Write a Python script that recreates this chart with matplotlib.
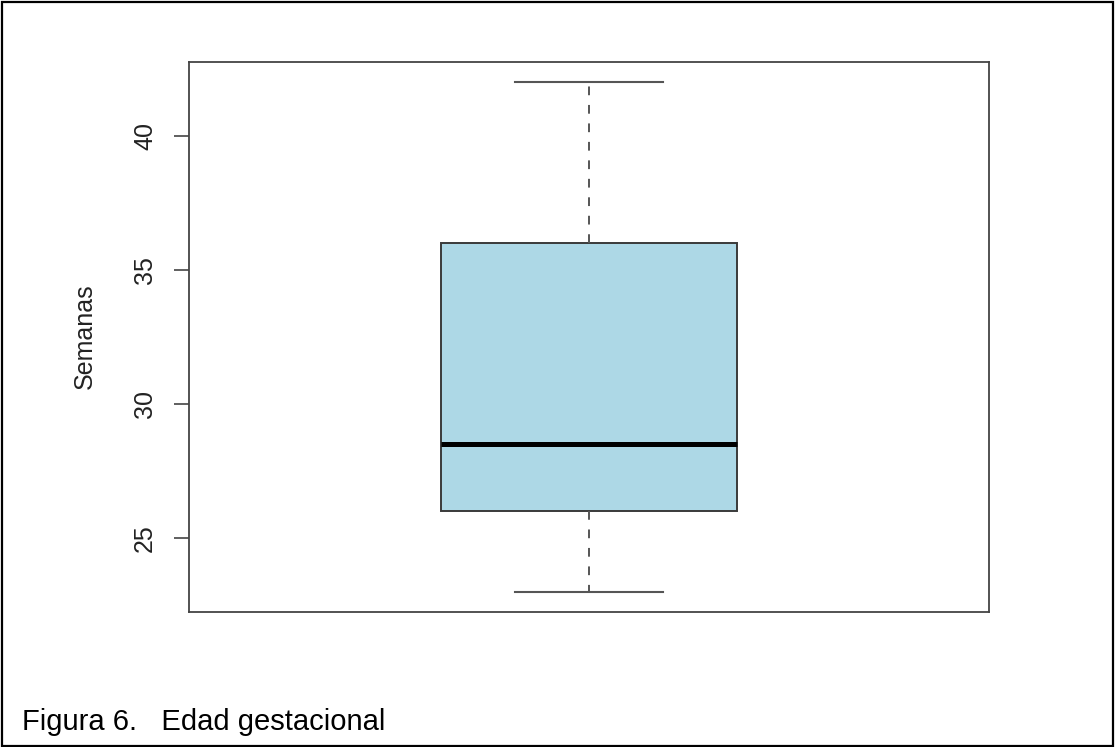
import matplotlib
matplotlib.use("Agg")
import matplotlib.pyplot as plt
from matplotlib.patches import Rectangle

plt.rcParams['font.family'] = ['Liberation Sans', 'DejaVu Sans']

# summary of gestational age (weeks)
semanas_min = 23
semanas_q1 = 26
semanas_mediana = 28.5
semanas_q3 = 36
semanas_max = 42
y_ticks = [25, 30, 35, 40]

stats = [{
    "whislo": semanas_min,
    "q1": semanas_q1,
    "med": semanas_mediana,
    "q3": semanas_q3,
    "whishi": semanas_max,
    "fliers": [],
}]

W, H = 1116, 747
fig = plt.figure(figsize=(W / 100, H / 100), dpi=100)
ax = fig.add_axes([189 / W, 1 - 612 / H, 800 / W, 550 / H])

edge = "#3a3a3a"
ax.bxp(
    stats, positions=[1], widths=0.4, patch_artist=True, showfliers=False,
    boxprops=dict(facecolor="#add8e6", edgecolor=edge, linewidth=1.4),
    medianprops=dict(color="black", linewidth=3.6, solid_capstyle="butt"),
    whiskerprops=dict(color="#555555", linewidth=1.4, linestyle=(0, (4.5, 5))),
    capprops=dict(color="#555555", linewidth=1.5),
    capwidths=0.2,
)

# R-style padding of 4% on each side of the data range
span = semanas_max - semanas_min
ax.set_ylim(semanas_min - 0.04 * span, semanas_max + 0.04 * span)
ax.set_xlim(0.46, 1.54)

ax.set_xticks([])
ax.set_yticks(y_ticks)
ax.set_yticklabels([str(t) for t in y_ticks], rotation=90, va="center",
                   fontsize=18, color="#222222")
ax.tick_params(axis="y", length=11, width=1.2, color="#444444", pad=12)
for s in ax.spines.values():
    s.set_color("#444444")
    s.set_linewidth(1.3)

fig.text(85 / W, 1 - 336 / H, "Semanas", rotation=90, fontsize=18,
         color="#222222", ha="center", va="center")

# page frame and caption
fig.patches.append(Rectangle((0.0015, 0.002), 0.996, 0.995, transform=fig.transFigure,
                             fill=False, edgecolor="black", linewidth=1.6))
fig.text(22 / W, 1 - 730 / H, "Figura 6.   Edad gestacional",
         fontsize=21, va="baseline", ha="left", color="black")

fig.savefig("out.png", dpi=100)
